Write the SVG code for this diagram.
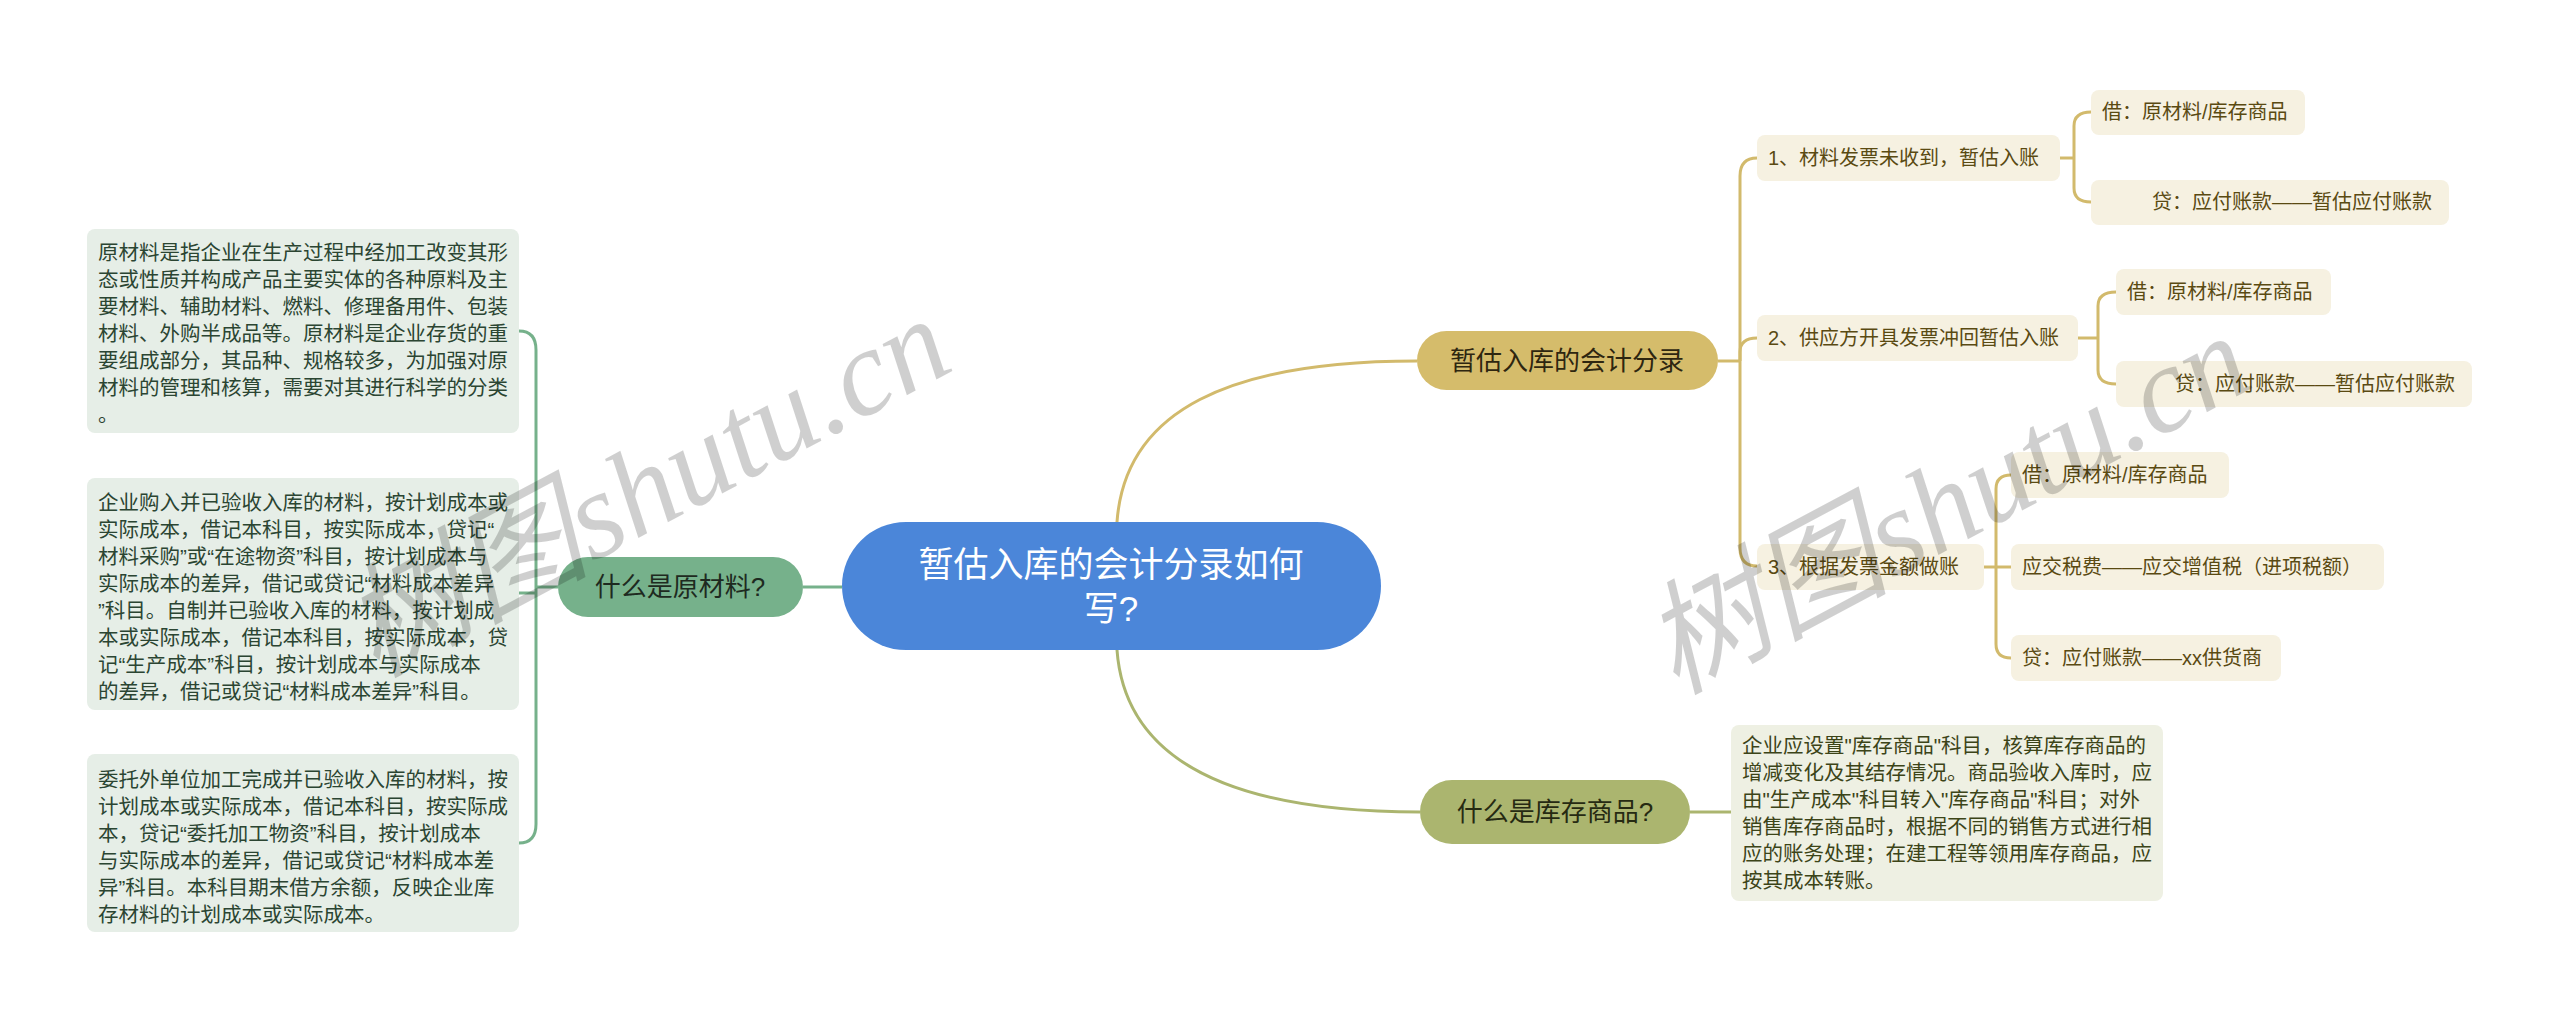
<svg xmlns="http://www.w3.org/2000/svg" width="2560" height="1021" viewBox="0 0 2560 1021">
<style>
text{font-family:"Liberation Sans","Noto Sans CJK SC",sans-serif;}
.lbox{fill:#e6eee7;}
.ltxt{font-size:20.5px;fill:#2b4532;}
.ibox{fill:#f6f1e1;}
.itxt{font-size:20px;fill:#5a4a12;}
.obox{fill:#eef0e3;}
.otxt{font-size:20.5px;fill:#3c4418;}
.gline{fill:none;stroke:#76b18b;stroke-width:3;}
.yline{fill:none;stroke:#d2ba6c;stroke-width:3;}
.oline{fill:none;stroke:#abb56f;stroke-width:3;}
.wm{font-family:"Liberation Serif","Noto Sans CJK SC",serif;font-style:italic;font-size:123px;fill:#000;fill-opacity:0.19;}
</style>
<rect width="2560" height="1021" fill="#ffffff"/>
<g id="connectors">
<path class="gline" d="M842 587 L803 587"/>
<path class="gline" d="M558 587 L536 587"/>
<path class="gline" d="M536 587 L536 350 Q536 331 519 331"/>
<path class="gline" d="M536 587 L536 824 Q536 843 519 843"/>
<path class="gline" d="M536 593 L519 593"/>
<path class="yline" d="M1117 522 C1125 410 1230 361 1417 361"/>
<path class="oline" d="M1117 650 C1125 760 1230 812 1420 812"/>
<path class="yline" d="M1718 361 L1740 361"/>
<path class="yline" d="M1740 361 L1740 176 Q1740 158 1757 158"/>
<path class="yline" d="M1740 361 L1740 352 Q1740 338 1757 338"/>
<path class="yline" d="M1740 361 L1740 548 Q1740 566 1757 566"/>
<path class="yline" d="M2060 158 L2074 158"/>
<path class="yline" d="M2091 112 Q2074 112 2074 126 L2074 188 Q2074 202 2091 202"/>
<path class="yline" d="M2078 338 L2098 338"/>
<path class="yline" d="M2116 292 Q2098 292 2098 306 L2098 370 Q2098 384 2116 384"/>
<path class="yline" d="M1984 567 L1996 567"/>
<path class="yline" d="M2011 475 Q1996 475 1996 489 L1996 644 Q1996 658 2011 658"/>
<path class="yline" d="M1996 567 L2011 567"/>
<path class="oline" d="M1690 812 L1731 812"/>
</g>
<g id="root">
<rect x="842" y="522" width="539" height="128" rx="64" fill="#4b86d9"/>
<text x="1111" y="577" font-size="35" fill="#ffffff" text-anchor="middle">暂估入库的会计分录如何</text>
<text x="1111" y="621" font-size="35" fill="#ffffff" text-anchor="middle">写?</text>
</g>
<g id="yuancailiao">
<rect x="558" y="557" width="245" height="60" rx="30" fill="#76b18b"/>
<text x="680" y="596" font-size="26" fill="#1e2a20" text-anchor="middle">什么是原材料?</text>
</g>
<g id="left1">
<rect class="lbox" x="87" y="229" width="432" height="204" rx="8"/>
<text class="ltxt" x="98" y="260">原材料是指企业在生产过程中经加工改变其形</text>
<text class="ltxt" x="98" y="287">态或性质并构成产品主要实体的各种原料及主</text>
<text class="ltxt" x="98" y="314">要材料、辅助材料、燃料、修理备用件、包装</text>
<text class="ltxt" x="98" y="341">材料、外购半成品等。原材料是企业存货的重</text>
<text class="ltxt" x="98" y="368">要组成部分，其品种、规格较多，为加强对原</text>
<text class="ltxt" x="98" y="395">材料的管理和核算，需要对其进行科学的分类</text>
<text class="ltxt" x="98" y="422">。</text>
</g>
<g id="left2">
<rect class="lbox" x="87" y="478" width="432" height="232" rx="8"/>
<text class="ltxt" x="98" y="510">企业购入并已验收入库的材料，按计划成本或</text>
<text class="ltxt" x="98" y="537">实际成本，借记本科目，按实际成本，贷记“</text>
<text class="ltxt" x="98" y="564">材料采购”或“在途物资”科目，按计划成本与</text>
<text class="ltxt" x="98" y="591">实际成本的差异，借记或贷记“材料成本差异</text>
<text class="ltxt" x="98" y="618">”科目。自制并已验收入库的材料，按计划成</text>
<text class="ltxt" x="98" y="645">本或实际成本，借记本科目，按实际成本，贷</text>
<text class="ltxt" x="98" y="672">记“生产成本”科目，按计划成本与实际成本</text>
<text class="ltxt" x="98" y="699">的差异，借记或贷记“材料成本差异”科目。</text>
</g>
<g id="left3">
<rect class="lbox" x="87" y="754" width="432" height="178" rx="8"/>
<text class="ltxt" x="98" y="787">委托外单位加工完成并已验收入库的材料，按</text>
<text class="ltxt" x="98" y="814">计划成本或实际成本，借记本科目，按实际成</text>
<text class="ltxt" x="98" y="841">本，贷记“委托加工物资”科目，按计划成本</text>
<text class="ltxt" x="98" y="868">与实际成本的差异，借记或贷记“材料成本差</text>
<text class="ltxt" x="98" y="895">异”科目。本科目期末借方余额，反映企业库</text>
<text class="ltxt" x="98" y="922">存材料的计划成本或实际成本。</text>
</g>
<g id="zangu">
<rect x="1417" y="331" width="301" height="59" rx="29.5" fill="#d5bc6b"/>
<text x="1567" y="370" font-size="26" fill="#2e2610" text-anchor="middle">暂估入库的会计分录</text>
</g>
<g id="item1">
<rect class="ibox" x="1757" y="135" width="303" height="46" rx="8"/>
<text class="itxt" x="1768" y="165">1、材料发票未收到，暂估入账</text>
</g>
<g id="item1a">
<rect class="ibox" x="2091" y="90" width="214" height="45" rx="8"/>
<text class="itxt" x="2102" y="119">借：原材料/库存商品</text>
</g>
<g id="item1b">
<rect class="ibox" x="2091" y="180" width="358" height="45" rx="8"/>
<text class="itxt" x="2152" y="209">贷：应付账款——暂估应付账款</text>
</g>
<g id="item2">
<rect class="ibox" x="1757" y="315" width="321" height="46" rx="8"/>
<text class="itxt" x="1768" y="345">2、供应方开具发票冲回暂估入账</text>
</g>
<g id="item2a">
<rect class="ibox" x="2116" y="269" width="215" height="46" rx="8"/>
<text class="itxt" x="2127" y="299">借：原材料/库存商品</text>
</g>
<g id="item2b">
<rect class="ibox" x="2116" y="361" width="356" height="46" rx="8"/>
<text class="itxt" x="2175" y="391">贷：应付账款——暂估应付账款</text>
</g>
<g id="item3">
<rect class="ibox" x="1757" y="544" width="227" height="46" rx="8"/>
<text class="itxt" x="1768" y="574">3、根据发票金额做账</text>
</g>
<g id="item3a">
<rect class="ibox" x="2011" y="452" width="218" height="46" rx="8"/>
<text class="itxt" x="2022" y="482">借：原材料/库存商品</text>
</g>
<g id="item3b">
<rect class="ibox" x="2011" y="544" width="373" height="46" rx="8"/>
<text class="itxt" x="2022" y="574">应交税费——应交增值税（进项税额）</text>
</g>
<g id="item3c">
<rect class="ibox" x="2011" y="635" width="270" height="46" rx="8"/>
<text class="itxt" x="2022" y="665">贷：应付账款——xx供货商</text>
</g>
<g id="kucun">
<rect x="1420" y="780" width="270" height="64" rx="32" fill="#abb56f"/>
<text x="1555" y="821" font-size="26" fill="#262a12" text-anchor="middle">什么是库存商品?</text>
</g>
<g id="kucun1">
<rect class="obox" x="1731" y="725" width="432" height="176" rx="8"/>
<text class="otxt" x="1742" y="753">企业应设置"库存商品"科目，核算库存商品的</text>
<text class="otxt" x="1742" y="780">增减变化及其结存情况。商品验收入库时，应</text>
<text class="otxt" x="1742" y="807">由"生产成本"科目转入"库存商品"科目；对外</text>
<text class="otxt" x="1742" y="834">销售库存商品时，根据不同的销售方式进行相</text>
<text class="otxt" x="1742" y="861">应的账务处理；在建工程等领用库存商品，应</text>
<text class="otxt" x="1742" y="888">按其成本转账。</text>
</g>
<g id="watermark">
<text class="wm" x="0" y="0" transform="translate(375 678) rotate(-28)">树图shutu.cn</text>
<text class="wm" x="0" y="0" transform="translate(1675 695) rotate(-28)">树图shutu.cn</text>
</g>
</svg>
